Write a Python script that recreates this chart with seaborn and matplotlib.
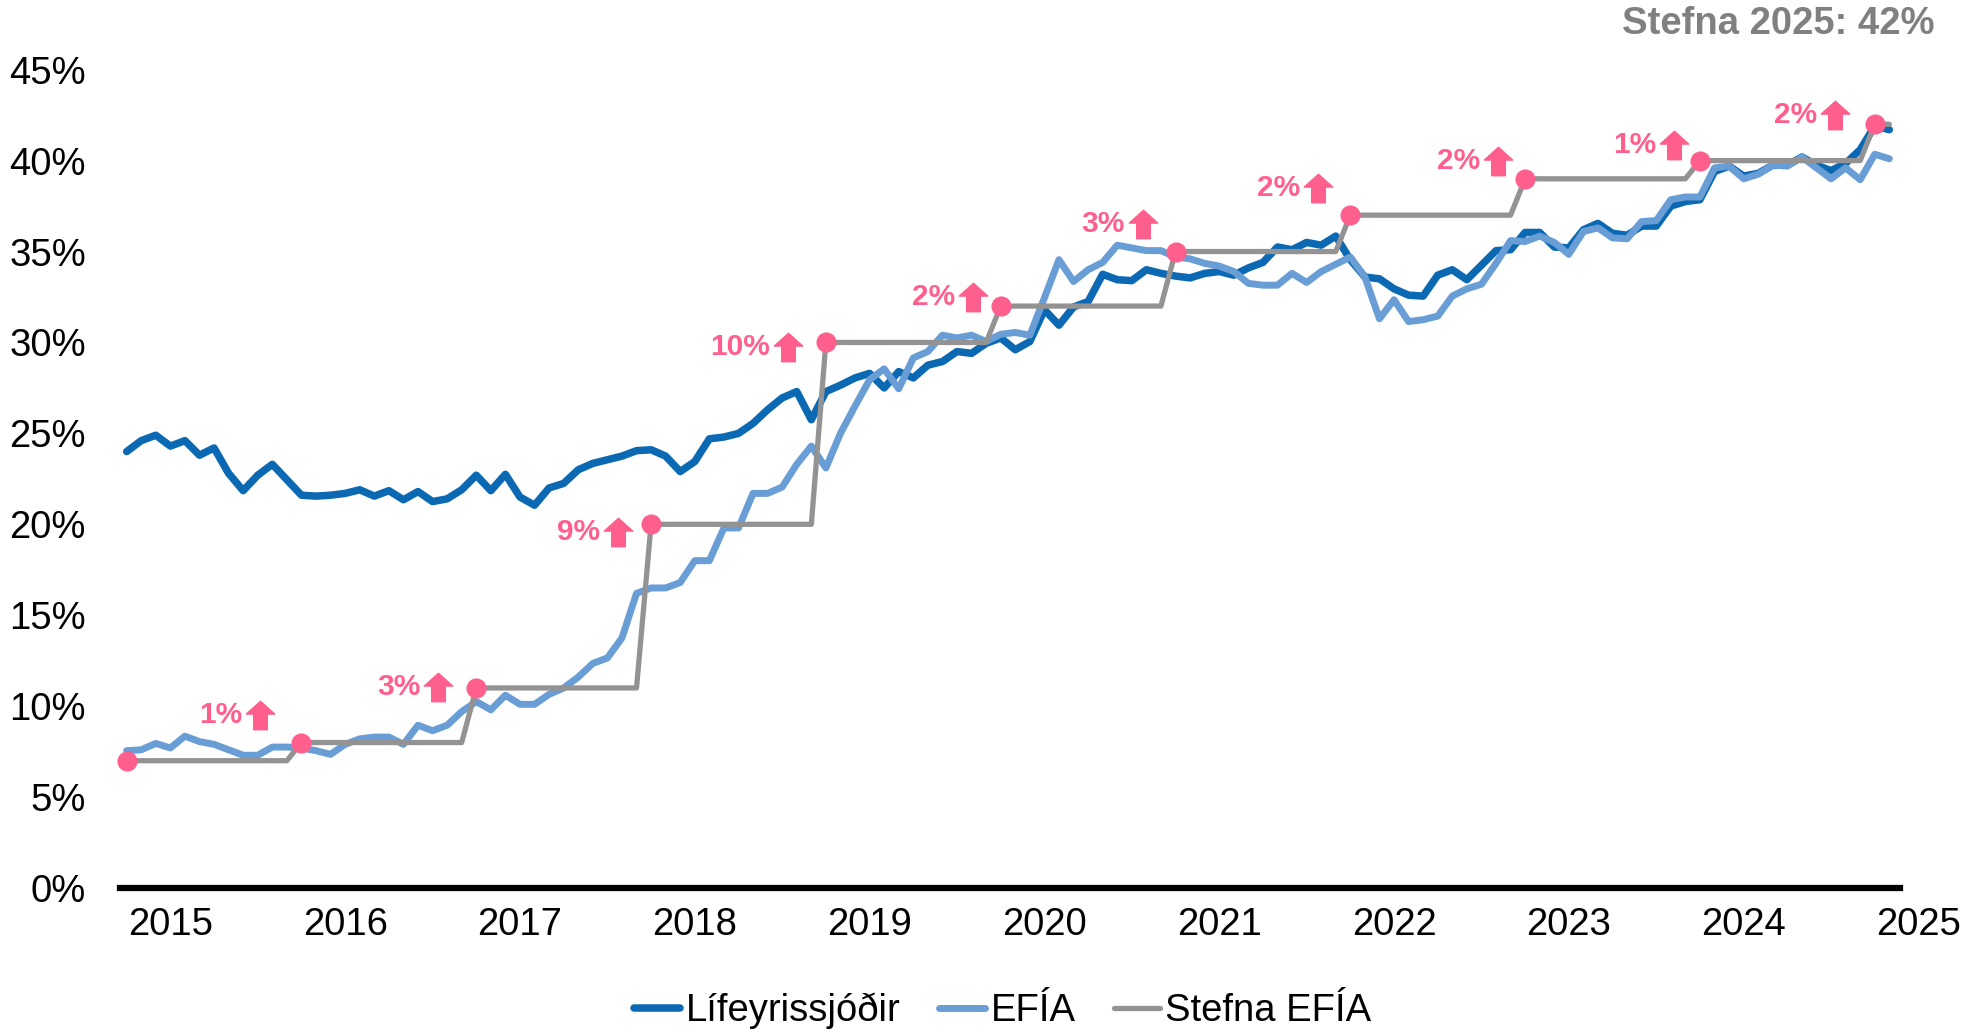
import numpy as np
import pandas as pd
import matplotlib.pyplot as plt
import seaborn as sns
from matplotlib import font_manager
from matplotlib.path import Path
from matplotlib.transforms import offset_copy

# monthly values, Oct 2014 - Nov 2024 (%)
lifeyrissjodir = [
    24.0, 24.6, 24.9, 24.3, 24.6, 23.8, 24.2, 22.8, 21.85, 22.7, 23.3, 22.45,
    21.6, 21.55, 21.6, 21.7, 21.9, 21.55, 21.85, 21.35, 21.8, 21.25, 21.4, 21.9,
    22.7, 21.85, 22.75, 21.5, 21.05, 22.0, 22.25, 23.0, 23.35, 23.55, 23.75, 24.05,
    24.1, 23.75, 22.9, 23.45, 24.7, 24.8, 25.0, 25.55, 26.3, 26.95, 27.3, 25.75,
    27.3, 27.65, 28.05, 28.3, 27.5, 28.4, 28.05, 28.75, 28.95, 29.5, 29.4, 29.95,
    30.25, 29.6, 30.05, 31.8, 30.95, 31.95, 32.25, 33.75, 33.45, 33.4, 34.0, 33.8,
    33.65, 33.55, 33.8, 33.9, 33.7, 34.1, 34.4, 35.25, 35.1, 35.5, 35.35, 35.85,
    34.55, 33.6, 33.5, 32.95, 32.6, 32.55, 33.7, 34.0, 33.45, 34.25, 35.05, 35.1,
    36.05, 36.05, 35.25, 35.2, 36.2, 36.55, 36.0, 35.9, 36.4, 36.4, 37.5, 37.75,
    37.85, 39.4, 39.7, 39.15, 39.3, 39.75, 39.75, 40.2, 39.75, 39.45, 39.85, 40.6,
    41.9, 41.7,
]
efia = [
    7.55, 7.6, 7.95, 7.7, 8.35, 8.05, 7.9, 7.6, 7.3, 7.3, 7.75, 7.75,
    7.7, 7.55, 7.35, 7.9, 8.2, 8.3, 8.3, 7.9, 8.95, 8.65, 8.95, 9.7,
    10.25, 9.8, 10.6, 10.1, 10.1, 10.65, 11.0, 11.6, 12.35, 12.65, 13.75, 16.2,
    16.5, 16.5, 16.8, 18.0, 18.0, 19.8, 19.8, 21.7, 21.7, 22.05, 23.3, 24.3,
    23.1, 25.0, 26.5, 27.95, 28.55, 27.45, 29.15, 29.5, 30.4, 30.25, 30.4, 30.05,
    30.45, 30.55, 30.4, 32.45, 34.55, 33.35, 34.0, 34.4, 35.35, 35.2, 35.05, 35.05,
    34.7, 34.6, 34.35, 34.2, 33.9, 33.25, 33.15, 33.15, 33.8, 33.3, 33.9, 34.3,
    34.7, 33.6, 31.3, 32.35, 31.15, 31.25, 31.45, 32.55, 32.95, 33.2, 34.35, 35.6,
    35.55, 35.85, 35.5, 34.85, 36.1, 36.3, 35.75, 35.7, 36.65, 36.7, 37.85, 38.0,
    38.0, 39.6, 39.7, 39.0, 39.25, 39.75, 39.7, 40.2, 39.6, 39.0, 39.6, 38.95,
    40.35, 40.1,
]
stefna = ([7] * 12 + [8] * 12 + [11] * 12 + [20] * 12 + [30] * 12 + [32] * 12
          + [35] * 12 + [37] * 12 + [39] * 12 + [40] * 12 + [42] * 2)

dates = pd.date_range("2014-10-01", periods=len(efia), freq="MS")
df = pd.DataFrame({
    "ar": dates.year + (dates.month - 1) / 12,
    "man": dates.month,
    "Lífeyrissjóðir": lifeyrissjodir,
    "EFÍA": efia,
    "Stefna EFÍA": stefna,
})

year_ticks = list(range(2015, 2026))
y_ticks = list(range(0, 50, 5))

# label offsets (pixels) of the "x% arrow" labels relative to each pink dot
label_dx = [-33, -30, -25, -30, -20, -25, -24, -19, -18, -32]
label_dy = [28, 1, -8, -5, 9, 28, 27, 18, 16, 9]

DARK = "#0B69B3"
LIGHT = "#689DD5"
GREY = "#939393"
PINK = "#FF5F8C"

sns.set_style("white")
names = {f.name for f in font_manager.fontManager.ttflist}
if "Liberation Sans Narrow" in names:
    main_font, main_size = "Liberation Sans Narrow", 32.5
else:
    main_font, main_size = "Liberation Sans", 27.5
plt.rcParams["font.family"] = [main_font, "Liberation Sans", "DejaVu Sans"]
plt.rcParams["text.color"] = "black"

fig, ax = plt.subplots(figsize=(19.86, 10.34), dpi=100)
fig.subplots_adjust(left=0.0604, right=0.9703, bottom=0.1412, top=0.9326)

sns.lineplot(data=df, x="ar", y="Lífeyrissjóðir", color=DARK, linewidth=5.4,
             label="Lífeyrissjóðir", ax=ax)
sns.lineplot(data=df, x="ar", y="EFÍA", color=LIGHT, linewidth=5.0,
             label="EFÍA", ax=ax)
sns.lineplot(data=df, x="ar", y="Stefna EFÍA", color=GREY, linewidth=3.8,
             label="Stefna EFÍA", ax=ax)

# pink markers where the target changes (October each year)
okt = df[df["man"] == 10].reset_index(drop=True)
ax.plot(okt["ar"], okt["Stefna EFÍA"], "o", color=PINK, markersize=13.5,
        zorder=5, clip_on=False)

arrow = Path([(-0.24, -0.5), (0.24, -0.5), (0.24, 0.05), (0.5, 0.05),
              (0.0, 0.5), (-0.5, 0.05), (-0.24, 0.05), (-0.24, -0.5)],
             [Path.MOVETO] + [Path.LINETO] * 6 + [Path.CLOSEPOLY])

changes = okt["Stefna EFÍA"].diff()
for k in range(1, len(okt)):
    xv, yv = okt.loc[k, "ar"], okt.loc[k, "Stefna EFÍA"]
    dx, dy = label_dx[k - 1], label_dy[k - 1]
    tr = offset_copy(ax.transData, fig=fig, x=dx - 8, y=dy, units="dots")
    ax.plot([xv], [yv], marker=arrow, markersize=20.5, color=PINK,
            transform=tr, clip_on=False, zorder=6)
    ax.annotate(f"{int(changes[k])}%", (xv, yv), xytext=(dx - 26, dy),
                textcoords="offset pixels", ha="right", va="center",
                fontsize=21.5, fontweight="bold", color=PINK,
                family=["Liberation Sans", "DejaVu Sans"])

ax.set_xlim(2014.7117, 2025.049)
ax.set_ylim(0, 45)
ax.set_xticks(year_ticks)
ax.set_xticklabels([str(y) for y in year_ticks])
ax.set_yticks(y_ticks)
ax.set_yticklabels([f"{v}%" for v in y_ticks])
ax.tick_params(axis="both", length=0, labelsize=main_size, colors="black")
ax.tick_params(axis="y", pad=24.5)
ax.tick_params(axis="x", pad=14)
ax.set_xlabel("")
ax.set_ylabel("")

for s in ["top", "right", "left"]:
    ax.spines[s].set_visible(False)
ax.spines["bottom"].set_color("black")
ax.spines["bottom"].set_linewidth(4.5)
ax.spines["bottom"].set_bounds(2014.7117, 2024.895)

leg = ax.legend(loc="center", bbox_to_anchor=(0.505, 0.0222),
                bbox_transform=fig.transFigure, ncol=3, frameon=False,
                fontsize=main_size, handlelength=1.2, handletextpad=0.15,
                columnspacing=1.0)
for t in leg.get_texts():
    t.set_color("black")

fig.text(0.974, 0.977, "Stefna 2025: 42%", ha="right", va="center",
         fontsize=main_size, fontweight="bold", color="#808080")

plt.savefig("out.png", dpi=100)
